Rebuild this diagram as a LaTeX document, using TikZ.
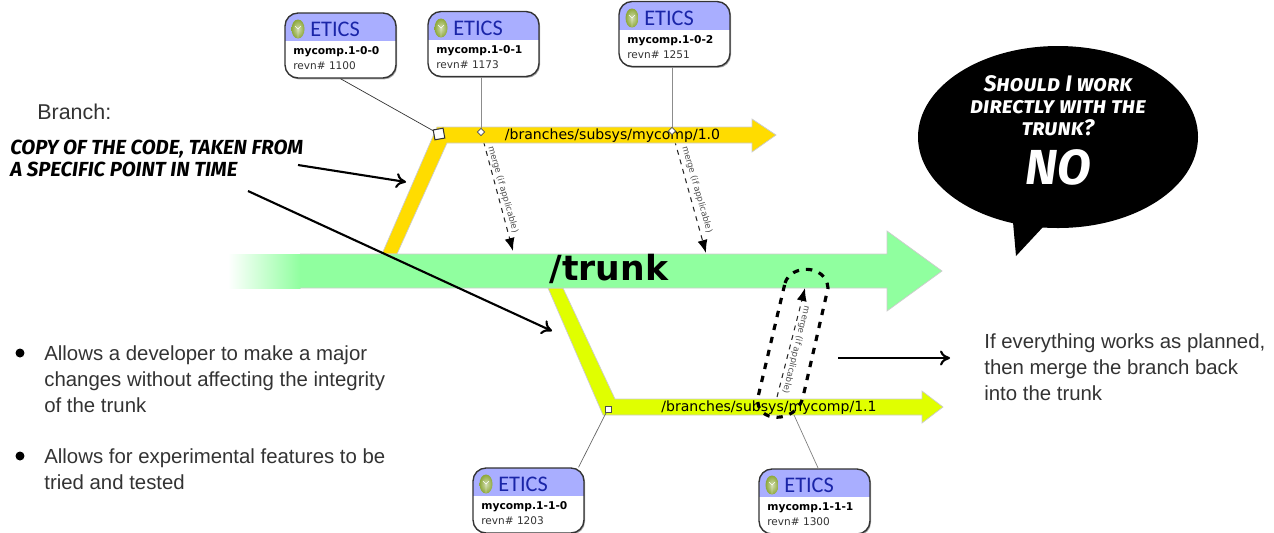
\documentclass[tikz,border=0pt]{standalone}
\usepackage{fontspec}
\usetikzlibrary{arrows.meta,shadows,shapes.geometric}
\setmainfont{Liberation Sans}
\newfontfamily\labelfont{DejaVu Sans}
\newfontfamily\eticsfont{Carlito}
\newfontfamily\handfont[Letters=SmallCaps]{Fira Sans}
\definecolor{trunkgreen}{HTML}{90FF9F}
\definecolor{goldbranch}{HTML}{FFDC00}
\definecolor{limebranch}{HTML}{E0FF00}
\definecolor{eticshead}{HTML}{A9AEFF}
\definecolor{eticsblue}{HTML}{1A25A8}
\definecolor{leafgreen}{HTML}{8DA83A}
\definecolor{bodygrey}{HTML}{333333}
\tikzset{
  branchedge/.style={draw=black!20, line width=.4pt},
  eticsbox/.style={draw=black!80, line width=.8pt, rounded corners=.26cm, fill=white,
    minimum width=2.22cm, minimum height=1.3cm, inner sep=0pt, drop shadow={shadow xshift=.6pt, shadow yshift=-.8pt, opacity=.7},
    path picture={\fill[eticshead, sharp corners] (path picture bounding box.north west) rectangle ([yshift=-.56cm]path picture bounding box.north east);}},
  eticsword/.style={font=\eticsfont\fontsize{12.7}{14}\selectfont, text=eticsblue, anchor=west, inner sep=0pt},
  eticsname/.style={font=\labelfont\bfseries\fontsize{6.1}{7}\selectfont, anchor=west, inner sep=0pt},
  eticsrevn/.style={font=\labelfont\fontsize{6}{7}\selectfont, text=bodygrey, anchor=west, inner sep=0pt},
  eticsleaf/.style={ellipse, inner color=leafgreen!40!white, outer color=leafgreen, minimum width=.26cm, minimum height=.38cm, inner sep=0pt,
    path picture={\draw[white, line width=.25pt] (path picture bounding box.south) -- (path picture bounding box.center) -- ++(-3,-3) (path picture bounding box.center) -- ++(3,-3);}},
  rootmark/.style={draw=black!80, fill=white, line width=.6pt, minimum size=.2cm, inner sep=0pt, rotate=10},
  smallmark/.style={draw=black!70, fill=white, line width=.4pt, minimum size=.12cm, inner sep=0pt},
  tagline/.style={line width=.4pt},
  mergeline/.style={draw=black!85, dashed, dash pattern=on 2.8pt off 2.8pt, line width=.6pt, -{Latex[length=.26cm,width=.2cm,black]}},
  mergetext/.style={font=\labelfont\fontsize{4.9}{6}\selectfont, text=black!70, inner sep=0pt},
  pathname/.style={font=\labelfont\fontsize{8}{9}\selectfont, inner sep=0pt},
  pointer/.style={line width=1.2pt, -{To[length=.2cm,width=.3cm]}},
  bodytext/.style={font=\fontsize{11.6}{14.8}\selectfont, text=bodygrey, align=left, anchor=north west, inner sep=0pt},
  handtext/.style={font=\handfont\bfseries\itshape\fontsize{11.6}{12.5}\selectfont, align=left, anchor=north west, inner sep=0pt},
  balloontext/.style={font=\handfont\bfseries\itshape\fontsize{12.8}{12.5}\selectfont, text=white, align=center, inner sep=0pt},
  bulletdot/.style={circle, fill=black, minimum size=.18cm, inner sep=0pt}
}
\begin{document}
\begin{tikzpicture}[x=.02cm, y=-.02cm]
    \useasboundingbox (0,0) rectangle (1274,532);

    % merges go under the branches
    \coordinate (goldtaga) at (481,132);
    \coordinate (goldtagb) at (672,131);
    \coordinate (limetag) at (794,415);
    \coordinate (mergeenda) at (513,251);
    \coordinate (mergeendb) at (706,253);
    \coordinate (mergestartc) at (777,397);
    \coordinate (mergeendc) at (805,288);
    \draw[mergeline] (goldtaga) -- (mergeenda);
    \draw[mergeline] (goldtagb) -- (mergeendb);

    % gold branch
    \draw[fill=goldbranch, branchedge] (382,254) -- (437,127) -- (752,127) -- (752,119) -- (776,135) -- (752,152) -- (752,143) -- (447,143) -- (397,254) -- cycle;
    % lime branch
    \draw[fill=limebranch, branchedge] (548,288) -- (603,415) -- (922,415) -- (922,423) -- (943,407) -- (922,391) -- (922,399) -- (615,399) -- (563,288) -- cycle;
    % trunk
    \fill[left color=white, right color=trunkgreen] (228,254) rectangle (300.5,288);
    \draw[fill=trunkgreen, branchedge] (300,254) -- (887,254) -- (887,231) -- (942,271) -- (887,311) -- (887,288) -- (300,288);
    \draw[mergeline] (mergestartc) -- (mergeendc);
    \node[font=\labelfont\bfseries\fontsize{19.7}{22}\selectfont, inner sep=0pt] (trunkname) at (609,269) {/trunk};
    \node[pathname] (goldname) at (612.5,136) {/branches/subsys/mycomp/1.0};
    \node[pathname] (limename) at (769,408) {/branches/subsys/mycomp/1.1};

    % marks on the branches
    \node[rootmark] (goldroot) at (439,134) {};
    \node[smallmark, diamond, minimum size=.15cm] (goldtag) at (goldtaga) {};
    \node[smallmark, diamond, minimum size=.15cm] (goldtagc) at (goldtagb) {};
    \node[smallmark] (limeroot) at (608,409) {};

    % ETICS boxes
    \node[eticsbox] (boxa) at (340.5,45.5) {};
    \node[eticsleaf] (leafa) at (298,29) {};
    \node[eticsword] (worda) at (310,29) {ETICS};
    \node[eticsname] (namea) at (293,52) {mycomp.1-0-0};
    \node[eticsrevn] (revna) at (293,66) {revn\# 1100};

    \node[eticsbox] (boxb) at (483.5,44) {};
    \node[eticsleaf] (leafb) at (441,28) {};
    \node[eticsword] (wordb) at (453,28) {ETICS};
    \node[eticsname] (nameb) at (436,51) {mycomp.1-0-1};
    \node[eticsrevn] (revnb) at (436,65) {revn\# 1173};

    \node[eticsbox] (boxc) at (674.5,34) {};
    \node[eticsleaf] (leafc) at (632,18) {};
    \node[eticsword] (wordc) at (644,18) {ETICS};
    \node[eticsname] (namec) at (627,41) {mycomp.1-0-2};
    \node[eticsrevn] (revnc) at (627,55) {revn\# 1251};

    \node[eticsbox] (boxd) at (528.5,500.5) {};
    \node[eticsleaf] (leafd) at (486,484) {};
    \node[eticsword] (wordd) at (498,484) {ETICS};
    \node[eticsname] (named) at (481,507) {mycomp.1-1-0};
    \node[eticsrevn] (revnd) at (481,521) {revn\# 1203};

    \node[eticsbox] (boxe) at (814.5,501.5) {};
    \node[eticsleaf] (leafe) at (772,485) {};
    \node[eticsword] (worde) at (784,485) {ETICS};
    \node[eticsname] (namee) at (767,508) {mycomp.1-1-1};
    \node[eticsrevn] (revne) at (767,522) {revn\# 1300};

    \draw[tagline, black!80] (boxa.south) -- (goldroot);
    \draw[tagline, black!45] (boxb.south -| goldtag) -- (goldtag);
    \draw[tagline, black!45] (boxc.south -| goldtagc) -- (goldtagc);
    \draw[tagline, black!60] (boxd.north) ++(50,0) -- (limeroot);
    \draw[tagline, black!50] (boxe) ++(4,-32.5) -- (limetag);

    \node[mergetext, rotate=-74] (mergea) at (503,189.5) {merge (if applicable)};
    \node[mergetext, rotate=-74] (mergeb) at (697,189.5) {merge (if applicable)};
    \node[mergetext, rotate=-104] (mergec) at (796,350) {merge (if applicable)};

    % dashed loop round the last merge
    \draw[line width=1.8pt, dash pattern=on 3.6pt off 4pt] (785,283) .. controls (791,264) and (826,264) .. (828,288) -- (803,397) .. controls (797,424) and (754,424) .. (758,397) -- cycle;

    % texts on the left
    \node[font=\fontsize{12.2}{14}\selectfont, text=bodygrey, anchor=west, inner sep=0pt] (branchword) at (37,112) {Branch:};
    \node[handtext] (branchnote) at (10,140) {COPY OF THE CODE, TAKEN FROM\\A SPECIFIC POINT IN TIME};
    \coordinate (pointstarta) at (298,165);
    \coordinate (pointenda) at (406,182);
    \coordinate (pointstartb) at (248,191);
    \coordinate (pointendb) at (552,331);
    \draw[pointer] (pointstarta) -- (pointenda);
    \draw[pointer] (pointstartb) -- (pointendb);
    \node[bulletdot] (dota) at (20,353) {};
    \node[bodytext] (usea) at (44,345) {Allows a developer to make a major\\changes without affecting the integrity\\of the trunk};
    \node[bulletdot] (dotb) at (20,456) {};
    \node[bodytext] (useb) at (44,448) {Allows for experimental features to be\\tried and tested};

    % texts on the right
    \coordinate (pointstartc) at (838,358);
    \coordinate (pointendc) at (950,358);
    \draw[pointer] (pointstartc) -- (pointendc);
    \node[bodytext] (mergetext) at (984,333) {If everything works as planned,\\then merge the branch back\\into the trunk};

    % balloon
    \fill (1058,137) ellipse [x radius=140, y radius=91];
    \fill (1013,222) -- (1016,256) -- (1043,227) -- cycle;
    \node[balloontext] (question) at (1058,106) {Should I work\\directly with the\\trunk?};
    \node[font=\handfont\bfseries\itshape\fontsize{28}{30}\selectfont, text=white, inner sep=0pt] (answer) at (1058,167) {NO};
\end{tikzpicture}
\end{document}
